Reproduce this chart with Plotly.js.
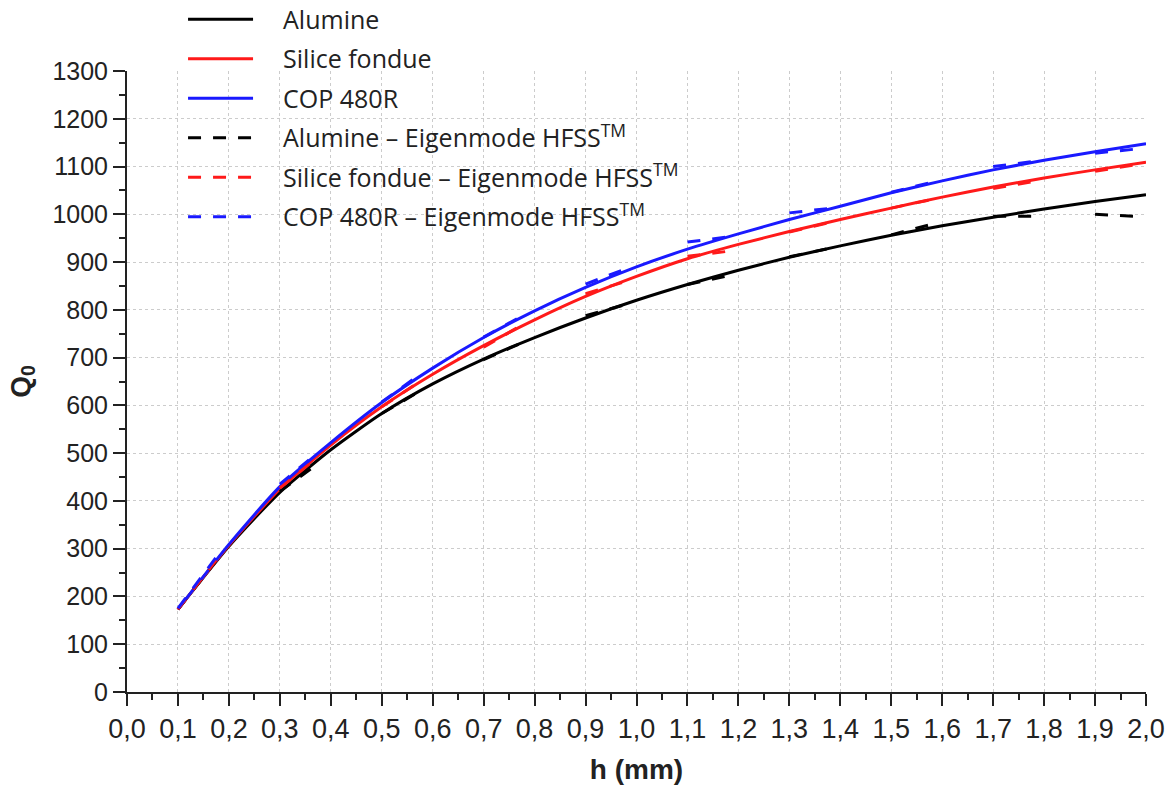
<!DOCTYPE html>
<html>
<head>
<meta charset="utf-8">
<script src="https://cdn.plot.ly/plotly-3.0.1.min.js"></script>
<style>html,body{margin:0;padding:0;background:#fff;}#chart{width:1170px;height:789px;}</style>
</head>
<body>
<div id="chart"></div>
<script>
// h values (mm) for the analytic curves
const hValues = [0.1,0.2,0.3,0.4,0.5,0.6,0.7,0.8,0.9,1.0,1.1,1.2,1.3,1.4,1.5,1.6,1.7,1.8,1.9,2.0];
const alumineQ = [173,305,418,507,583,645,697,742,783,820,853,883,910,934,956,976,994,1011,1027,1041];
const siliceQ  = [173,307,425,517,597,665,725,779,828,870,907,937,964,989,1013,1036,1057,1076,1093,1109];
const copQ     = [173,309,430,522,606,678,742,798,847,890,927,959,989,1017,1045,1070,1093,1113,1131,1148];

// HFSS Eigenmode results, given as short segments (start h, end h)
const hfssH = [[0.1,0.175],[0.3,0.375],[0.5,0.575],[0.7,0.775],[0.9,0.975],[1.1,1.175],[1.3,1.375],[1.5,1.575],[1.7,1.775],[1.9,1.975]];
const alumineHFSS = [[173,275],[420,478],[583,630],[696,731],[788,810],[853,870],[911,928],[957,978],[996,996],[1000,996]];
const siliceHFSS  = [[173,276],[427,492],[597,650],[722,768],[834,858],[912,922],[963,982],[1013,1030],[1054,1068],[1090,1103]];
const copHFSS     = [[175,282],[435,502],[607,665],[743,787],[854,884],[942,952],[1003,1012],[1046,1066],[1100,1110],[1128,1136]];

const names = ['Alumine','Silice fondue','COP 480R'];
const hfssNames = ['Alumine – Eigenmode HFSS<sup>TM</sup>','Silice fondue – Eigenmode HFSS<sup>TM</sup>','COP 480R – Eigenmode HFSS<sup>TM</sup>'];
const colors = ['#000000','#ff1a1a','#1a1aff'];
const pad = '\u2002\u2002';

function seg(pairsH, pairsQ){
  const x=[], y=[];
  pairsH.forEach((p,i)=>{ x.push(p[0],p[1],null); y.push(pairsQ[i][0],pairsQ[i][1],null); });
  return {x,y};
}

const solid = [alumineQ, siliceQ, copQ].map((q,i)=>({
  x: hValues, y: q, type:'scatter', mode:'lines', name: pad + names[i], legendgroup:'s'+i,
  line:{color: colors[i], width:3, shape:'spline', smoothing:0.6}
}));
const dashed = [alumineHFSS, siliceHFSS, copHFSS].map((q,i)=>{
  const s = seg(hfssH, q);
  return {x:s.x, y:s.y, type:'scatter', mode:'lines', name: pad + hfssNames[i], legendgroup:'d'+i, connectgaps:false,
    line:{color: colors[i], width:3, dash:'13px,12px'}};
});

const yFont = {family:'Liberation Sans, Arial, sans-serif', size:25, color:'#222'};
const xFont = {family:'Liberation Sans, Arial, sans-serif', size:27, color:'#222'};
const layout = {
  width:1170, height:789,
  margin:{l:127, r:24, t:71, b:97, autoexpand:false},
  paper_bgcolor:'#fff', plot_bgcolor:'#fff',
  separators:',.',
  showlegend:true,
  legend:{xref:'paper', yref:'paper', x:0.055, y:1.12, xanchor:'left', yanchor:'top',
    bgcolor:'rgba(255,255,255,0)', font:{family:'Open Sans, sans-serif', size:25, color:'#222'},
    itemwidth:65, traceorder:'grouped', tracegroupgap:4},
  xaxis:{range:[0,2.0], dtick:0.1, tick0:0, tickformat:'.1f', tickangle:0, showline:true, linecolor:'#222', linewidth:2,
    ticks:'outside', ticklen:12, tickwidth:2, tickcolor:'#222', tickfont:xFont,
    showgrid:true, gridcolor:'#cccccc', griddash:'dot', gridwidth:1, zeroline:false,
    minor:{dtick:0.05, ticks:'outside', ticklen:6, tickwidth:2, tickcolor:'#222', showgrid:false},
    title:{text:'<b>h (mm)</b>', font:{family:'Liberation Sans, Arial, sans-serif', size:28, color:'#222'}, standoff:16}},
  yaxis:{range:[0,1300], dtick:100, tick0:0, showline:true, linecolor:'#222', linewidth:2,
    ticks:'outside', ticklen:12, tickwidth:2, tickcolor:'#222', tickfont:yFont,
    showgrid:true, gridcolor:'#cccccc', griddash:'dot', gridwidth:1, zeroline:false,
    minor:{dtick:50, ticks:'outside', ticklen:6, tickwidth:2, tickcolor:'#222', showgrid:false},
    title:{text:'<b>Q<sub>0</sub></b>', font:{family:'Liberation Sans, Arial, sans-serif', size:28, color:'#222'}, standoff:14}}
};

Plotly.newPlot('chart', solid.concat(dashed), layout, {staticPlot:true, displayModeBar:false});
</script>
</body>
</html>
